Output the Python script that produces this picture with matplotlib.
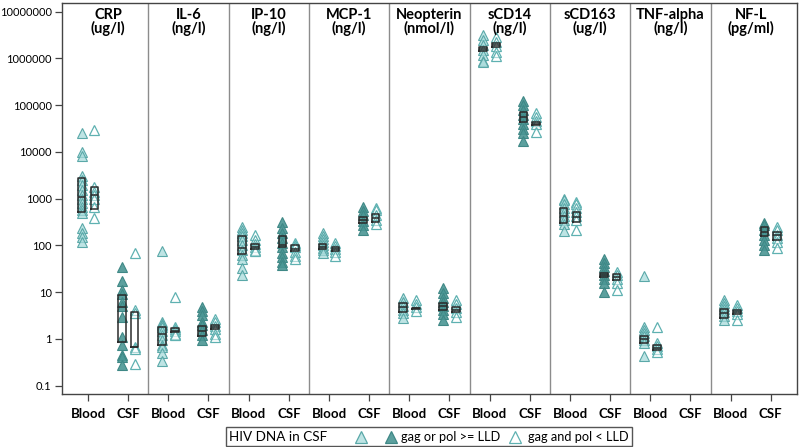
import matplotlib
matplotlib.use('Agg')
import matplotlib.pyplot as plt
from matplotlib.lines import Line2D
from matplotlib.offsetbox import AnchoredOffsetbox, HPacker, TextArea, DrawingArea

plt.rcParams['font.family'] = ['Lato', 'DejaVu Sans']

# Panels
markers = ['CRP', 'IL-6', 'IP-10', 'MCP-1', 'Neopterin', 'sCD14', 'sCD163', 'TNF-alpha', 'NF-L']
units = ['(ug/l)', '(ng/l)', '(ng/l)', '(ng/l)', '(nmol/l)', '(ng/l)', '(ug/l)', '(ng/l)', '(pg/ml)']
samples = ['Blood', 'CSF']

# Values per panel: [Blood pos, Blood neg, CSF pos, CSF neg]
crp = [[25000, 10000, 8000, 3000, 2500, 2000, 1500, 1200, 1000, 800, 650, 570, 500, 235, 185, 150, 120],
       [29000, 1800, 1400, 1200, 1000, 670, 390],
       [35, 17, 11, 9, 6, 5, 3, 1.1, 0.75, 0.45, 0.4, 0.27],
       [70, 4.2, 3.5, 0.68, 0.6, 0.29]]
il6 = [[74, 2.3, 2.1, 2.0, 1.8, 1.5, 1.2, 0.95, 0.75, 0.68, 0.49, 0.33],
       [8, 1.8, 1.6, 1.5, 1.3, 1.2],
       [4.9, 4.0, 3.3, 2.3, 2.0, 1.55, 1.2, 0.95],
       [2.6, 2.3, 1.9, 1.6, 1.3, 1.1]]
ip10 = [[250, 210, 180, 160, 130, 100, 80, 63, 50, 32, 23],
        [165, 130, 105, 90, 80, 74],
        [310, 240, 180, 145, 110, 90, 70, 55, 44, 38],
        [115, 100, 90, 72, 60, 52]]
mcp1 = [[180, 158, 137, 118, 100, 88, 78, 68],
        [110, 97, 84, 72, 60],
        [670, 550, 440, 340, 270, 215],
        [620, 560, 450, 350, 280]]
neopterin = [[7.4, 6.1, 5.0, 4.2, 3.5, 2.8],
             [6.8, 5.6, 4.8, 4.0],
             [12, 9.6, 7.5, 6.2, 5.0, 4.1, 3.4, 2.5],
             [6.8, 5.6, 4.5, 3.8, 3.0]]
scd14 = [[3.2e6, 2.5e6, 1.9e6, 1.5e6, 1.2e6, 9e5, 8.5e5],
         [2.8e6, 2.2e6, 1.8e6, 1.4e6, 1.1e6],
         [1.2e5, 1.0e5, 8e4, 6.3e4, 5e4, 4e4, 3.1e4, 2.5e4, 1.7e4],
         [6.7e4, 5.6e4, 4.6e4, 3.9e4, 2.7e4]]
scd163 = [[1000, 940, 780, 630, 520, 430, 350, 290, 200],
          [860, 750, 640, 520, 430, 350, 215],
          [50, 42, 35, 28, 23, 19, 16, 10],
          [27, 23, 19, 16, 11]]
tnfa = [[22, 1.8, 1.55, 1.33, 1.15, 0.95, 0.8, 0.42],
        [1.8, 0.8, 0.7, 0.6, 0.53],
        [],
        []]
nfl = [[6.8, 5.8, 5.0, 4.3, 3.7, 3.1, 2.5],
       [5.3, 4.6, 4.0, 3.4, 2.5],
       [300, 270, 210, 165, 130, 100, 80],
       [250, 210, 170, 145, 120, 87]]
panel_values = [crp, il6, ip10, mcp1, neopterin, scd14, scd163, tnfa, nfl]

# Box stats (q1, median, q3) per panel in order [Blood pos, Blood neg, CSF pos, CSF neg]
box_q1 = [[525, 600, 0.85, 0.66], [0.74, 1.43, 1.15, 1.6], [66, 84, 90, 74], [83, 77, 300, 320],
          [3.8, 4.3, 4.2, 3.8], [1.45e6, 1.73e6, 4.3e4, 3.7e4], [300, 310, 21, 18],
          [0.83, 0.58, None, None], [2.8, 3.4, 155, 130]]
box_med = [[1070, 1200, 4.8, 0.68], [1.3, 1.5, 1.5, 1.75], [88, 93, 102, 85], [93, 85, 350, 390],
           [4.8, 4.5, 5.0, 4.2], [1.6e6, 1.9e6, 5.6e4, 4.0e4], [435, 400, 23, 21],
           [1.0, 0.65, None, None], [3.6, 3.8, 195, 165]]
box_q3 = [[2800, 1800, 8.7, 3.7], [1.78, 1.7, 1.9, 2.0], [160, 105, 155, 102], [105, 93, 410, 470],
          [5.9, 4.6, 5.9, 4.8], [1.78e6, 2.1e6, 7.2e4, 4.4e4], [620, 510, 26, 24],
          [1.15, 0.74, None, None], [4.3, 4.2, 250, 195]]

yticks = [0.1, 1, 10, 100, 1000, 10000, 100000, 1000000, 10000000]
ytick_labels = ['0.1', '1', '10', '100', '1000', '10000', '100000', '1000000', '10000000']
legend_labels = ['', 'gag or pol >= LLD', 'gag and pol < LLD']

light_fill = (0.66, 0.86, 0.86, 0.75)
light_edge = '#5aa8a8'
dark_fill = (0.29, 0.59, 0.58, 0.9)
dark_edge = '#3f8886'
open_edge = '#5fb1b1'
box_color = '#2b2b2b'

fig = plt.figure(figsize=(8, 4.47), dpi=100)
ax = fig.add_axes([0.0775, 0.1186, 0.996 - 0.0775, 0.9933 - 0.1186])

offset = 0.16
ms = 6.8
for p, vals in enumerate(panel_values):
    for s in range(2):
        xc = 2 * p + s
        pos_vals = vals[2 * s]
        neg_vals = vals[2 * s + 1]
        fill = light_fill if s == 0 else dark_fill
        edge = light_edge if s == 0 else dark_edge
        if pos_vals:
            ax.plot([xc - offset] * len(pos_vals), pos_vals, ls='none', marker='^', ms=ms,
                    mfc=fill, mec=edge, mew=0.8, zorder=3)
        if neg_vals:
            ax.plot([xc + offset] * len(neg_vals), neg_vals, ls='none', marker='^', ms=ms,
                    mfc=(1, 1, 1, 0.5), mec=open_edge, mew=0.9, zorder=3)
        stats = []
        positions = []
        for g, dx in ((2 * s, -offset), (2 * s + 1, offset)):
            q1 = box_q1[p][g]
            if q1 is None:
                continue
            stats.append({'q1': q1, 'med': box_med[p][g], 'q3': box_q3[p][g],
                          'whislo': q1, 'whishi': box_q3[p][g], 'fliers': []})
            positions.append(xc + dx)
        if stats:
            ax.bxp(stats, positions=positions, widths=0.19, showcaps=False, showfliers=False,
                   manage_ticks=False, zorder=4,
                   boxprops=dict(color=box_color, lw=1.1),
                   medianprops=dict(color=box_color, lw=1.1),
                   whiskerprops=dict(lw=0))

for p in range(len(markers) - 1):
    ax.axvline(2 * p + 1.5, color='#8c8c8c', lw=1, zorder=1)

for p, (name, unit) in enumerate(zip(markers, units)):
    ax.text(2 * p + 0.5, 0.988, f'{name}\n{unit}', transform=ax.get_xaxis_transform(),
            ha='center', va='top', fontsize=10.5, fontweight='bold', linespacing=0.95)

ax.set_yscale('log')
ax.set_ylim(10 ** -1.18, 10 ** 7.185)
ax.set_yticks(yticks)
ax.set_yticklabels(ytick_labels, fontsize=8)
ax.minorticks_off()
ax.set_xlim(-0.647, 17.647)
ax.set_xticks(range(2 * len(markers)))
ax.set_xticklabels(samples * len(markers), fontsize=9.5, fontweight='bold')
ax.tick_params(axis='both', direction='out', length=5, width=0.9, color='#444444')
ax.tick_params(axis='y', pad=2.5)
ax.tick_params(axis='x', pad=5)
for sp in ax.spines.values():
    sp.set_color('#444444')
    sp.set_linewidth(1)

# legend
def tri_box(fc, ec):
    da = DrawingArea(10, 8, 0, 0)
    da.add_artist(Line2D([5], [4], ls='none', marker='^', ms=8.5, mfc=fc, mec=ec, mew=0.9))
    return da

def gap(w):
    return DrawingArea(w, 1, 0, 0)

items = [TextArea('HIV DNA in CSF', textprops=dict(fontsize=9.7)), gap(19),
         tri_box(light_fill, light_edge), gap(12), tri_box(dark_fill, dark_edge), gap(2),
         TextArea(legend_labels[1], textprops=dict(fontsize=9.2)), gap(6),
         tri_box('white', open_edge), gap(4),
         TextArea(legend_labels[2], textprops=dict(fontsize=9.2))]
pack = HPacker(children=items, align='center', pad=0, sep=0)
anch = AnchoredOffsetbox(loc='center', child=pack, pad=0.25, borderpad=0, frameon=True,
                         bbox_to_anchor=(0.536, 0.023), bbox_transform=fig.transFigure)
anch.patch.set_boxstyle('square,pad=0')
anch.patch.set_edgecolor('#555555')
anch.patch.set_linewidth(1)
fig.add_artist(anch)

fig.savefig('out.png', dpi=100)
